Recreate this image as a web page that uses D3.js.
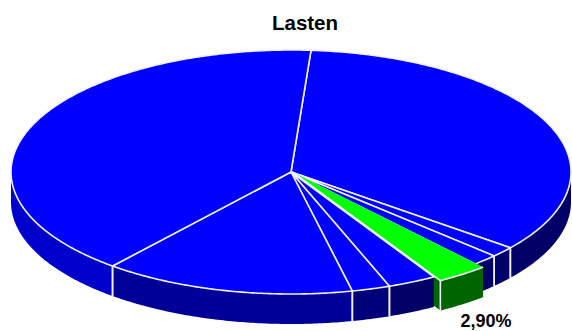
<!DOCTYPE html>
<html>
<head>
<meta charset="utf-8">
<script src="https://cdn.jsdelivr.net/npm/d3@7"></script>
<style>
  html, body { margin: 0; padding: 0; background: #fff; }
  svg { display: block; }
  text { font-family: "Liberation Sans", Arial, sans-serif; font-weight: bold; fill: #000; }
</style>
</head>
<body>
<svg id="chart" width="572" height="331"></svg>
<script>
// Share of each slice in percent, clockwise from the top
const sliceValues = [34.5, 1.4, 1.5, 2.9, 2.8, 2.2, 14.5, 40.1];
const sliceLabels = ["", "", "", "2,90%", "", "", "", ""];
const sliceTop = ["#0000ff", "#0000ff", "#0000ff", "#00ff00", "#0000ff", "#0000ff", "#0000ff", "#0000ff"];
const sliceSide = ["#000066", "#000066", "#000066", "#006400", "#000066", "#00007a", "#000099", "#0000cc"];
const explodedIndex = 3;

const cx = 291, cy = 172, rx = 280, ry = 122, depth = 30;
const pulledOut = 1.035;   // radius factor of the highlighted slice
const nudgeX = 1.5;        // sideways offset of the highlighted slice
const startDeg = 4.1;

const svg = d3.select("#chart");

svg.append("text")
  .attr("x", 305).attr("y", 30)
  .attr("text-anchor", "middle")
  .attr("font-size", 20.5)
  .text("Lasten");

const pie = d3.pie().sort(null)
  .startAngle(startDeg * Math.PI / 180)
  .endAngle((startDeg + 360) * Math.PI / 180);
const slices = pie(sliceValues);

// Point on the tilted disc for a clockwise angle measured from the top
const px = (a, k = 1) => cx + k * rx * Math.sin(a);
const py = (a, k = 1) => cy - k * ry * Math.cos(a);
const line = d3.line();

function rimPoints(a0, a1, k = 1) {
  const n = Math.max(2, Math.ceil((a1 - a0) / 0.01));
  return d3.range(n + 1).map(i => {
    const a = a0 + (a1 - a0) * i / n;
    return [px(a, k), py(a, k)];
  });
}

const white = "#f0f0ff";
const strokeW = 1.6;

function seam(g, a, k = 1) {
  g.append("line")
    .attr("x1", px(a, k)).attr("y1", py(a, k))
    .attr("x2", px(a, k)).attr("y2", py(a, k) + depth)
    .attr("stroke", white).attr("stroke-width", strokeW);
}

// Outer wall of a slice, limited to the part of the rim facing the viewer
function drawWall(s, g, k = 1) {
  const a0 = Math.max(s.startAngle, Math.PI / 2);
  const a1 = Math.min(s.endAngle, 3 * Math.PI / 2);
  if (a1 <= a0) return;
  const upper = rimPoints(a0, a1, k);
  const lower = upper.map(([x, y]) => [x, y + depth]).reverse();
  g.append("path")
    .attr("d", line(upper.concat(lower)) + "Z")
    .attr("fill", sliceSide[s.index]);
}

// Radial face exposed along the later edge of the highlighted slice
function drawCutFace(s, g, k) {
  const a = s.endAngle;
  const pts = [[cx, cy], [px(a, k), py(a, k)], [px(a, k), py(a, k) + depth], [cx, cy + depth]];
  g.append("path")
    .attr("d", line(pts) + "Z")
    .attr("fill", sliceSide[s.index]);
}

const ex = slices[explodedIndex];
const others = slices.filter(s => s.index !== explodedIndex);
const nudge = `translate(${nudgeX},0)`;

function drawTop(s, g) {
  const pts = [[cx, cy]].concat(rimPoints(s.startAngle, s.endAngle));
  g.append("path")
    .attr("d", line(pts) + "Z")
    .attr("fill", sliceTop[s.index])
    .attr("stroke", white).attr("stroke-width", strokeW)
    .attr("stroke-linejoin", "round");
}

// Back to front: cut face, walls and seams, the disc, then the highlighted slice
drawCutFace(ex, svg.append("g").attr("transform", nudge), pulledOut);
const walls = svg.append("g");
others.forEach(s => drawWall(s, walls));
others.forEach(s => {
  [s.startAngle, s.endAngle].forEach(a => {
    const facing = a >= Math.PI / 2 && a <= 3 * Math.PI / 2;
    if (facing && a !== ex.endAngle && a !== ex.startAngle) seam(walls, a);
  });
});
const disc = svg.append("g");
others.forEach(s => drawTop(s, disc));

const front = svg.append("g").attr("transform", nudge);
drawWall(ex, front, pulledOut);
seam(front, ex.endAngle, pulledOut);
front.append("path")
  .attr("d", line([[cx, cy]].concat(rimPoints(ex.startAngle, ex.endAngle, pulledOut))) + "Z")
  .attr("fill", sliceTop[ex.index]);
// Only the rim and the later edge of the highlighted slice carry an outline
front.append("path")
  .attr("d", line(rimPoints(ex.startAngle, ex.endAngle, pulledOut).concat([[cx, cy]])))
  .attr("fill", "none")
  .attr("stroke", white).attr("stroke-width", strokeW);

svg.selectAll("text.value")
  .data(slices.filter(s => sliceLabels[s.index]))
  .join("text")
  .attr("class", "value")
  .attr("x", 486).attr("y", 327)
  .attr("text-anchor", "middle")
  .attr("font-size", 18)
  .text(s => sliceLabels[s.index]);
</script>
</body>
</html>
